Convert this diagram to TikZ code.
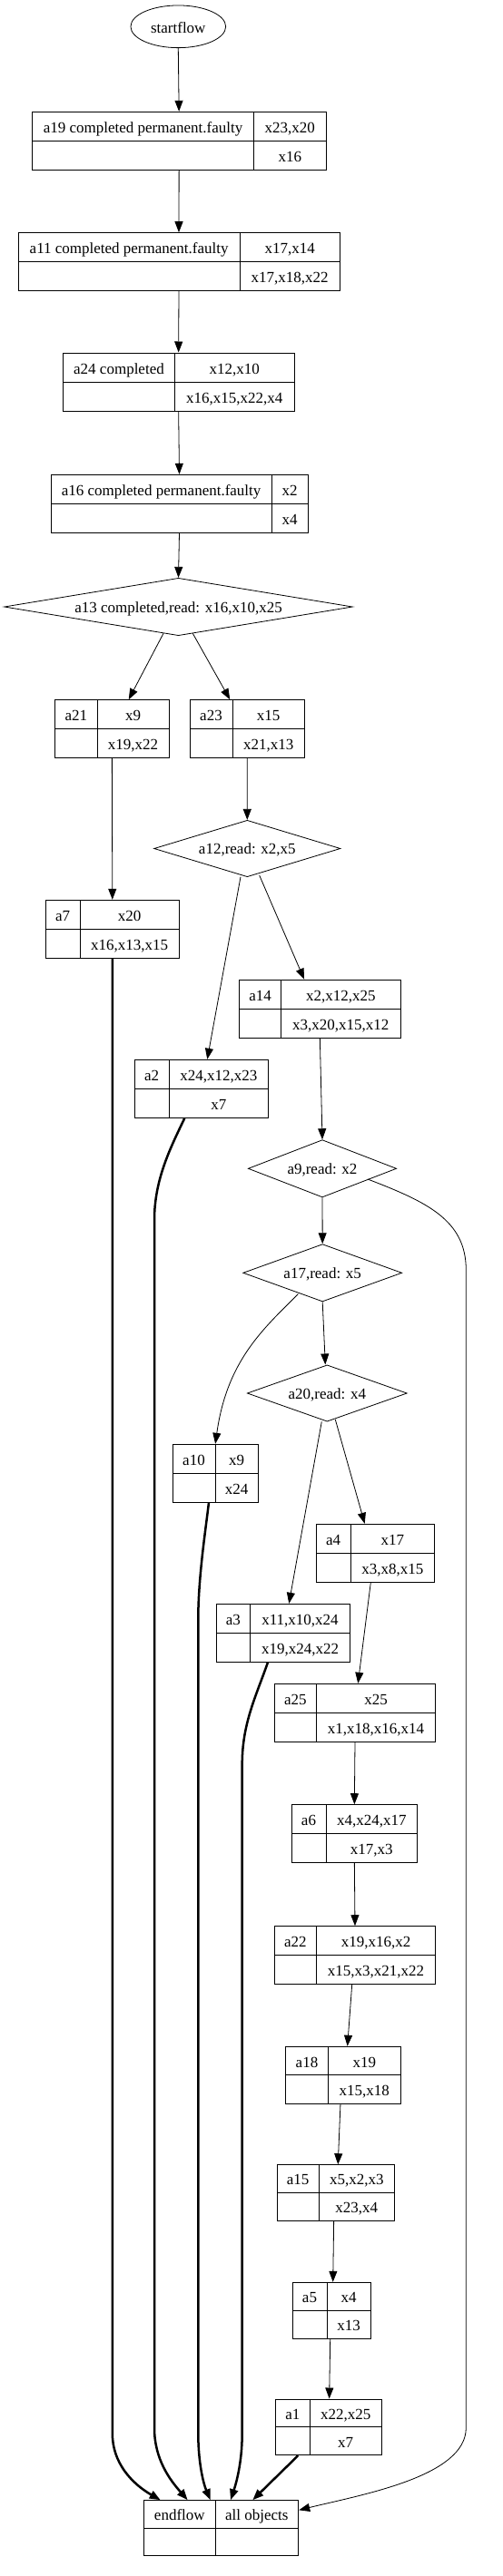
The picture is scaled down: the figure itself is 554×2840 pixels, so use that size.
\documentclass[tikz,border=0pt]{standalone}
\usepackage{fontspec}
\setmainfont{Liberation Serif}
\usetikzlibrary{arrows.meta,shapes.geometric,calc}
\tikzset{
  box/.style={draw, line width=1pt, inner sep=0pt, rectangle},
  txt/.style={inner sep=0pt, font=\fontsize{17}{20}\selectfont},
  edge/.style={line width=0.8pt, -{Triangle[length=12pt,width=9pt]}},
  heavy/.style={line width=2.5pt, -{Triangle[length=12pt,width=9pt]}},
  dia/.style={draw, diamond, line width=0.8pt, inner sep=0pt},
}
\newcommand\recbox[9]{%
  \node[box, minimum width={(#4-#2)*1pt}, minimum height={(#5-#3)*1pt}] (#1) at ({(#2+#4)/2},{(#3+#5)/2}) {};
  \draw[line width=1pt] ({#2},{(#3+#5)/2}) -- ({#4},{(#3+#5)/2});
  \draw[line width=1pt] ({#6},{#3}) -- ({#6},{#5});
  \node[txt, anchor=base] (#1-l) at ({(#2+#6)/2},{#3+0.72*(#5-#3)/2}) {#7};
  \node[txt, anchor=base] (#1-t) at ({(#6+#4)/2},{#3+0.72*(#5-#3)/2}) {#8};
  \node[txt, anchor=base] (#1-b) at ({(#6+#4)/2},{(#3+#5)/2+0.72*(#5-#3)/2}) {#9};
}
\begin{document}
\begin{tikzpicture}[x=1pt,y=-1pt]
\useasboundingbox[fill=white] (0,0) rectangle (554,2840);

\node[draw, ellipse, line width=0.8pt, inner sep=0pt, minimum width=104.7pt, minimum height=46.7pt] (start) at (196.3,29.3) {};
\node[txt, anchor=base] (start-t) at ($(start.center)+(0,7)$) {startflow};

\recbox{a19}{35.3}{123.3}{359}{187.3}{279.7}{a19 completed permanent.faulty}{x23,x20}{x16}
\recbox{a11}{20}{256.7}{374}{320.3}{264.3}{a11 completed permanent.faulty}{x17,x14}{x17,x18,x22}
\recbox{a24}{69.3}{389}{324}{453.3}{192.7}{a24 completed}{x12,x10}{x16,x15,x22,x4}
\recbox{a16}{56}{523.3}{339}{587.3}{299.3}{a16 completed permanent.faulty}{x2}{x4}

\node[dia, minimum width=383.6pt, minimum height=63.4pt] (a13) at (196.5,669) {};
\node[txt, anchor=base] (a13-t) at ($(a13.center)+(0,6)$) {a13 completed,read: x16,x10,x25};

\recbox{a21}{60.7}{771.7}{186}{835.3}{107}{a21}{x9}{x19,x22}
\recbox{a23}{209}{771.7}{335.3}{835.3}{256}{a23}{x15}{x21,x13}

\node[dia, minimum width=205.3pt, minimum height=62.4pt] (a12) at (272.3,935.5) {};
\node[txt, anchor=base] (a12-t) at ($(a12.center)+(0,6)$) {a12,read: x2,x5};

\recbox{a7}{50.3}{992.3}{197.3}{1056.3}{88}{a7}{x20}{x16,x13,x15}
\recbox{a14}{263.7}{1080.3}{441}{1144.3}{309.7}{a14}{x2,x12,x25}{x3,x20,x15,x12}
\recbox{a2}{148.3}{1168.3}{295.7}{1232.3}{186}{a2}{x24,x12,x23}{x7}

\node[dia, minimum width=163.4pt, minimum height=63.3pt] (a9) at (355,1288.3) {};
\node[txt, anchor=base] (a9-t) at ($(a9.center)+(0,6)$) {a9,read: x2};

\node[dia, minimum width=175pt, minimum height=63.3pt] (a17) at (355.2,1403.3) {};
\node[txt, anchor=base] (a17-t) at ($(a17.center)+(0,6)$) {a17,read: x5};

\node[dia, minimum width=176pt, minimum height=62.3pt] (a20) at (360.3,1536) {};
\node[txt, anchor=base] (a20-t) at ($(a20.center)+(0,6)$) {a20,read: x4};

\recbox{a10}{190}{1592.3}{284.3}{1656.3}{237}{a10}{x9}{x24}
\recbox{a4}{348.3}{1680.3}{478.7}{1744.3}{386}{a4}{x17}{x3,x8,x15}
\recbox{a3}{238}{1768.3}{385.3}{1832.3}{275.7}{a3}{x11,x10,x24}{x19,x24,x22}
\recbox{a25}{302.3}{1856.3}{479.7}{1920.3}{348.3}{a25}{x25}{x1,x18,x16,x14}
\recbox{a6}{321}{1989.7}{459.7}{2053.3}{359}{a6}{x4,x24,x17}{x17,x3}
\recbox{a22}{302.3}{2123.7}{479.7}{2187.3}{348.3}{a22}{x19,x16,x2}{x15,x3,x21,x22}
\recbox{a18}{314.3}{2256.3}{441}{2319.3}{361.7}{a18}{x19}{x15,x18}
\recbox{a15}{305}{2386.7}{434.3}{2448.3}{351.3}{a15}{x5,x2,x3}{x23,x4}
\recbox{a5}{322}{2516.3}{408}{2578}{360}{a5}{x4}{x13}
\recbox{a1}{303.3}{2645}{420}{2706.7}{341.3}{a1}{x22,x25}{x7}
\recbox{end}{158.7}{2756.7}{328.7}{2817.7}{237}{endflow}{all objects}{}

% thin edges
\draw[edge] (start.south) -- (a19.north);
\draw[edge] (a19.south) -- (a11.north);
\draw[edge] (a11.south) -- (a24.north);
\draw[edge] (a24.south) -- (a16.north);
\draw[edge] (a16.south) -- (a13.north);
\draw[edge] ($(a13.center)+(-16.5,29.3)$) -- ($(a21.north)+(18.4,0)$);
\draw[edge] ($(a13.center)+(15.8,29.3)$) -- ($(a23.north)+(-18.9,0)$);
\draw[edge] (a21.south) -- (a7.north);
\draw[edge] (a23.south) -- (a12.north);
\draw[edge] ($(a12.center)+(-7.3,31.2)$) -- ($(a2.north)+(6.3,0)$);
\draw[edge] ($(a12.center)+(13.4,29.5)$) -- ($(a14.north)+(-17.3,0)$);
\draw[edge] (a14.south) -- (a9.north);
\draw[edge] (a9.south) -- (a17.north);
\draw[edge] ($(a17.center)+(-26.9,23.4)$) .. controls (290,1465) and (250,1500) .. (a10.north);
\draw[edge] (a17.south) -- ($(a20.north)+(-2,0)$);
\draw[edge] ($(a20.center)+(-6,31.3)$) -- ($(a3.north)+(6.6,0)$);
\draw[edge] ($(a20.center)+(9,29)$) -- ($(a4.north)+(-11.8,0)$);
\draw[edge] ($(a4.south)+(-5.2,0)$) -- ($(a25.north)+(3.3,0)$);
\draw[edge] (a25.south) -- (a6.north);
\draw[edge] (a6.south) -- (a22.north);
\draw[edge] ($(a22.south)+(-3.3,0)$) -- ($(a18.north)+(5,0)$);
\draw[edge] ($(a18.south)+(-2.7,0)$) -- ($(a15.north)+(2.6,0)$);
\draw[edge] ($(a15.south)+(-2,0)$) -- ($(a5.north)+(1.7,0)$);
\draw[edge] ($(a5.south)+(-1.3,0)$) -- ($(a1.north)+(1,0)$);
\draw[edge] ($(a9.center)+(50,11.7)$) .. controls (470,1325) and (513.3,1345) .. (513.3,1400) -- (513.3,2676.7) .. controls (513.3,2730) and (400,2750) .. ($(end.east)+(0,-19.9)$);

% heavy edges
\draw[heavy] (a7.south) -- (123.8,2683) .. controls (123.8,2715) and (145,2738) .. ($(end.north)+(-67,0)$);
\draw[heavy] ($(a2.south)+(-18.7,0)$) .. controls (188,1265) and (170,1300) .. (170,1345) -- (170,2676.7) .. controls (170,2712) and (188,2735) .. ($(end.north)+(-37,0)$);
\draw[heavy] ($(a10.south)+(-7.2,0)$) .. controls (226,1690) and (218.3,1740) .. (218.3,1785) -- (218.3,2683) .. controls (218.3,2715) and (224,2738) .. ($(end.north)+(-12,0)$);
\draw[heavy] ($(a3.south)+(-16.7,0)$) .. controls (282,1870) and (266.7,1900) .. (266.7,1945) -- (266.7,2683) .. controls (266.7,2715) and (260,2738) .. ($(end.north)+(10.3,0)$);
\draw[heavy] ($(a1.south)+(-33.4,0)$) -- ($(end.north)+(34.6,0)$);
\end{tikzpicture}
\end{document}
